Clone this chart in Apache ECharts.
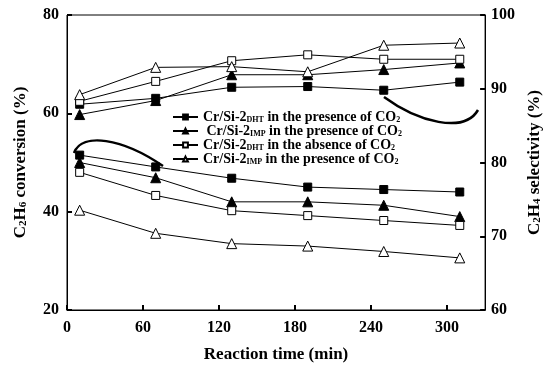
<!DOCTYPE html>
<html>
<head>
<meta charset="utf-8">
<script src="https://cdn.jsdelivr.net/npm/echarts@6/dist/echarts.min.js"></script>
<style>
  html, body { margin: 0; padding: 0; background: #fff; }
  #chart { width: 551px; height: 368px; }
</style>
</head>
<body>
<div id="chart"></div>
<script>
  // reaction time (min)
  var times = [10, 70, 130, 190, 250, 310];

  // C2H6 conversion (%), left axis
  var convDhtCo2 = [51.5, 49.1, 46.8, 45.0, 44.5, 44.0];
  var convImpCo2 = [50.0, 46.9, 42.0, 42.0, 41.3, 39.0];
  var convDhtNoCo2 = [48.0, 43.3, 40.2, 39.2, 38.2, 37.2];
  var convImp2Co2 = [40.3, 35.6, 33.5, 33.0, 31.9, 30.6];

  // C2H4 selectivity (%), right axis
  var selDhtCo2 = [87.9, 88.7, 90.2, 90.3, 89.8, 90.9];
  var selImpCo2 = [86.5, 88.4, 91.9, 91.9, 92.6, 93.5];
  var selDhtNoCo2 = [88.3, 91.0, 93.8, 94.6, 94.0, 94.0];
  var selImp2Co2 = [89.2, 92.9, 93.0, 92.3, 95.9, 96.2];

  var xTicks = [0, 60, 120, 180, 240, 300];

  // legend names -> rich text
  var legendNames = ['s1', 's2', 's3', 's4'];
  var legendText = {
    s1: 'Cr/Si-2{s|DHT} in the presence of CO{s|2}',
    s2: ' Cr/Si-2{s|IMP} in the presence of CO{s|2}',
    s3: 'Cr/Si-2{s|DHT} in the absence of CO{s|2}',
    s4: 'Cr/Si-2{s|IMP} in the presence of CO{s|2}'
  };

  var font = '"Liberation Serif", "Times New Roman", serif';

  function pair(a) {
    return a.map(function (v, i) { return [times[i], v]; });
  }

  var marks = {
    s1: { symbol: 'rect', size: 8, fill: '#000' },
    s2: { symbol: 'triangle', size: 10, fill: '#000' },
    s3: { symbol: 'rect', size: 8, fill: '#fff' },
    s4: { symbol: 'triangle', size: 10, fill: '#fff' }
  };

  function makeSeries(name, data, yIdx, size) {
    var m = marks[name];
    return {
      name: name,
      type: 'line',
      yAxisIndex: yIdx,
      data: pair(data),
      symbol: m.symbol,
      symbolSize: size || m.size,
      showAllSymbol: true,
      itemStyle: { color: m.fill, borderColor: '#000', borderWidth: 1 },
      lineStyle: { color: '#000', width: 1 },
      animation: false
    };
  }

  // empty series placed first so the legend icons use a smaller marker
  var legendSeries = legendNames.map(function (n) { return makeSeries(n, [], 0, 6); });

  var chart = echarts.init(document.getElementById('chart'));
  var tickLabel = { color: '#000', fontFamily: font, fontWeight: 'bold', fontSize: 16 };
  var subRich = {
    b: { fontFamily: font, fontWeight: 'bold', fontSize: 17, color: '#000' },
    s: { fontFamily: font, fontWeight: 'bold', fontSize: 11, color: '#000', verticalAlign: 'bottom' }
  };

  var option = {
    backgroundColor: '#fff',
    grid: {
      left: 67, right: 56, top: 15, bottom: 52,
      show: true, borderColor: '#000', borderWidth: 1
    },
    legend: {
      data: legendNames,
      orient: 'vertical',
      left: 172,
      top: 110,
      itemWidth: 25,
      itemHeight: 6,
      itemGap: 0,
      padding: 0,
      formatter: function (n) { return legendText[n]; },
      textStyle: {
        color: '#000', fontFamily: font, fontWeight: 'bold', fontSize: 14, lineHeight: 14,
        rich: {
          s: { fontFamily: font, fontWeight: 'bold', fontSize: 8, color: '#000', verticalAlign: 'bottom', lineHeight: 14 }
        }
      }
    },
    xAxis: {
      type: 'value',
      min: 0, max: 330, interval: 60,
      name: 'Reaction time (min)',
      nameLocation: 'middle',
      nameGap: 36,
      nameTextStyle: { color: '#000', fontFamily: font, fontWeight: 'bold', fontSize: 17 },
      axisLine: { lineStyle: { color: '#000', width: 1 } },
      axisTick: { inside: true, length: 5, lineStyle: { color: '#000', width: 2 } },
      axisLabel: Object.assign({ margin: 10, showMaxLabel: false,
        formatter: function (v) { return xTicks.indexOf(v) >= 0 ? String(v) : ''; } }, tickLabel),
      splitLine: { show: false }
    },
    yAxis: [{
      type: 'value',
      min: 20, max: 80, interval: 20,
      name: '{b|C}{s|2}{b|H}{s|6}{b| conversion (%)}',
      nameLocation: 'middle',
      nameGap: 38,
      nameTextStyle: { rich: subRich },
      axisLine: { show: true, lineStyle: { color: '#000', width: 1 } },
      axisTick: { inside: true, length: 5, lineStyle: { color: '#000', width: 2 } },
      axisLabel: Object.assign({ margin: 8 }, tickLabel),
      splitLine: { show: false }
    }, {
      type: 'value',
      position: 'right',
      min: 60, max: 100, interval: 10,
      name: '{b|C}{s|2}{b|H}{s|4}{b| selectivity (%)}',
      nameLocation: 'middle',
      nameGap: 38,
      nameRotate: 90,
      nameTextStyle: { rich: subRich },
      axisLine: { show: true, lineStyle: { color: '#000', width: 1 } },
      axisTick: { inside: true, length: 5, lineStyle: { color: '#000', width: 2 } },
      axisLabel: Object.assign({ margin: 6 }, tickLabel),
      splitLine: { show: false }
    }],
    graphic: [{
      type: 'bezierCurve',
      shape: { x1: 74, y1: 153, cpx1: 82, cpy1: 132, cpx2: 122, cpy2: 138, x2: 163, y2: 166 },
      style: { stroke: '#000', lineWidth: 2.5, fill: null }
    }, {
      type: 'bezierCurve',
      shape: { x1: 384, y1: 97, cpx1: 418, cpy1: 122, cpx2: 464, cpy2: 134, x2: 478, y2: 110 },
      style: { stroke: '#000', lineWidth: 2.5, fill: null }
    }],
    series: legendSeries.concat([
      makeSeries('s1', convDhtCo2, 0),
      makeSeries('s2', convImpCo2, 0),
      makeSeries('s3', convDhtNoCo2, 0),
      makeSeries('s4', convImp2Co2, 0),
      makeSeries('s1', selDhtCo2, 1),
      makeSeries('s2', selImpCo2, 1),
      makeSeries('s3', selDhtNoCo2, 1),
      makeSeries('s4', selImp2Co2, 1)
    ])
  };
  chart.setOption(option);
</script>
</body>
</html>
